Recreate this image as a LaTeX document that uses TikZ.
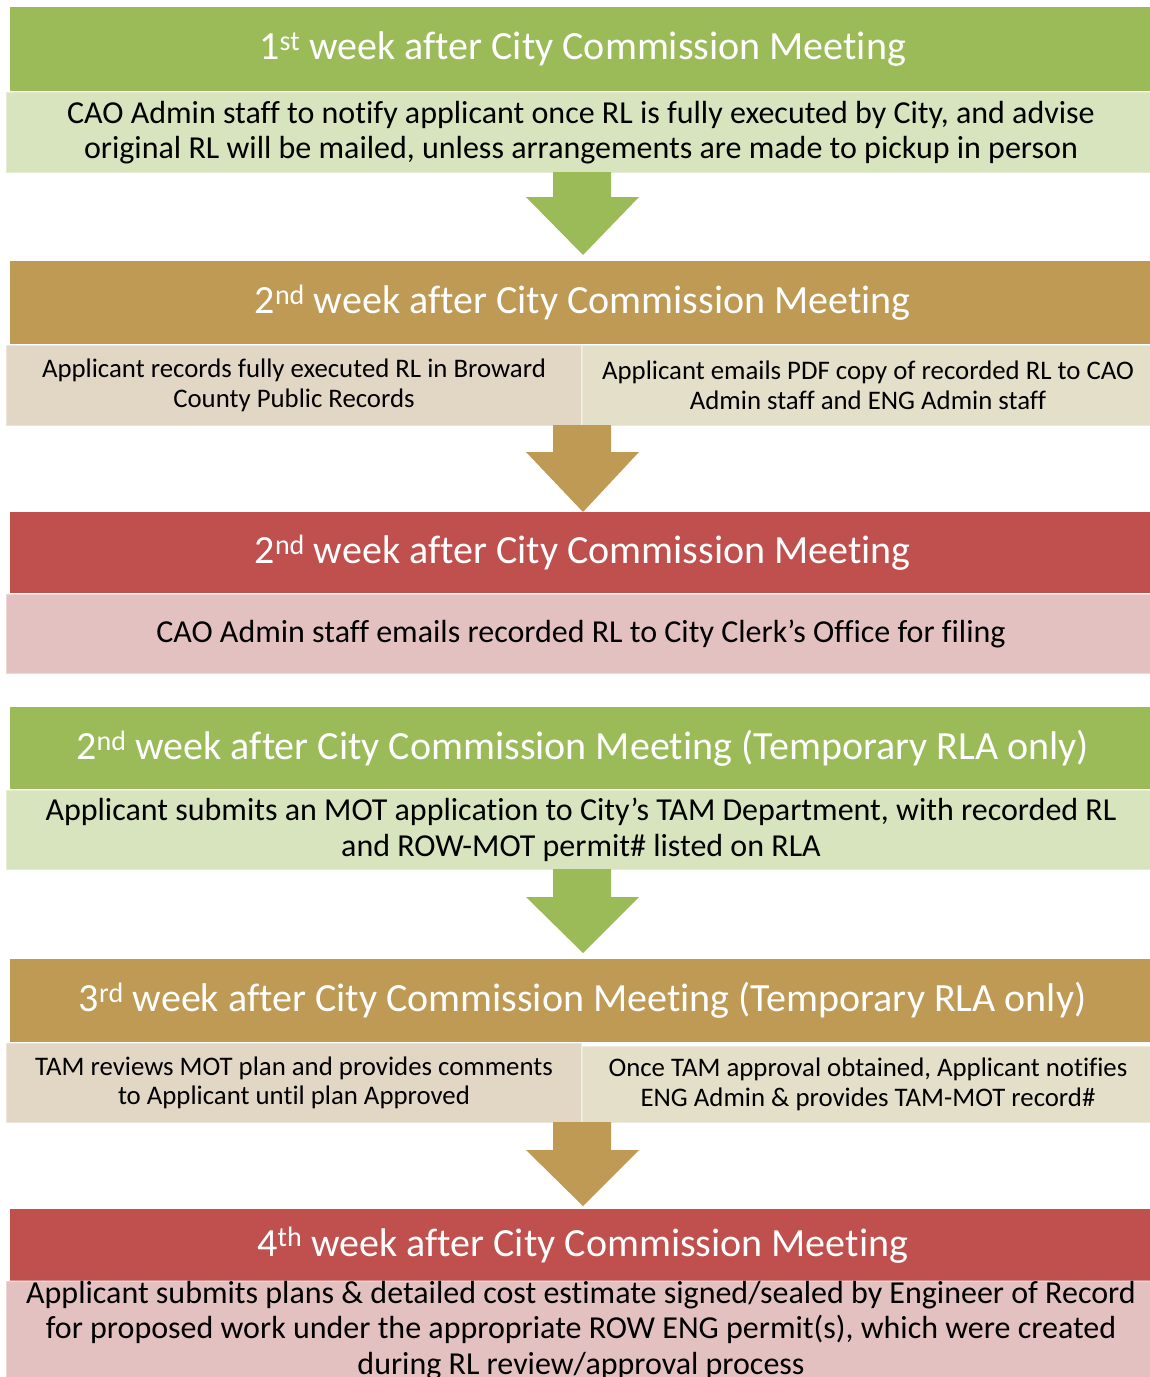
\documentclass[tikz,border=0pt]{standalone}
\usepackage{fontspec}
\setmainfont[Ligatures=NoCommon]{Carlito}
\usetikzlibrary{calc}
\definecolor{gHead}{HTML}{9BBB59}
\definecolor{gBody}{HTML}{D7E4BD}
\definecolor{tHead}{HTML}{BE9A54}
\definecolor{tBodyL}{HTML}{E2D6C5}
\definecolor{tBodyR}{HTML}{E3DFC8}
\definecolor{rHead}{HTML}{C0504D}
\definecolor{rBody}{HTML}{E4C1C1}
\newcommand{\hdrfont}{\fontsize{40}{48}\selectfont}
\newcommand{\bigbody}{\fontsize{32}{35.5}\selectfont}
\newcommand{\smallbody}{\fontsize{26.8}{29.5}\selectfont}
\tikzset{
  hdr/.style={rectangle, inner sep=0pt, anchor=north west, minimum width=1145pt, text=white, font=\hdrfont},
  bodybox/.style={rectangle, inner sep=0pt, anchor=north west, draw=white, draw opacity=0.35, line width=2pt, align=center},
  blockarrow/.style={fill=#1, draw=none}
}
\begin{document}
\begin{tikzpicture}[x=1pt,y=-1pt]
\useasboundingbox (0,0) rectangle (1150,1377);
\clip (0,0) rectangle (1150,1377);
\fill[white] (0,0) rectangle (1150,1377);

% Block 1
\node[hdr, fill=gHead, minimum height=84pt] (h1) at (10,7) {1\textsuperscript{st} week after City Commission Meeting};
\node[bodybox, fill=gBody, minimum width=1150pt, minimum height=81pt, font=\bigbody] (b1) at (5,91)
  {CAO Admin staff to notify applicant once RL is fully executed by City, and advise\\original RL will be mailed, unless arrangements are made to pickup in person};

% Block 2
\node[hdr, fill=tHead, minimum height=83pt] (h2) at (10,261) {2\textsuperscript{nd} week after City Commission Meeting};
\node[bodybox, fill=tBodyL, minimum width=576pt, minimum height=81pt, font=\smallbody] (b2l) at (5,344)
  {Applicant records fully executed RL in Broward\\County Public Records};
\node[bodybox, fill=tBodyR, minimum width=572pt, minimum height=81pt, font=\smallbody] (b2r) at (581,344)
  {Applicant emails PDF copy of recorded RL to CAO\\Admin staff and ENG Admin staff};

% Block 3
\node[hdr, fill=rHead, minimum height=81pt] (h3) at (10,512) {2\textsuperscript{nd} week after City Commission Meeting};
\node[bodybox, fill=rBody, minimum width=1150pt, minimum height=80pt, font=\bigbody] (b3) at (5,593)
  {CAO Admin staff emails recorded RL to City Clerk’s Office for filing};

% Block 4
\node[hdr, fill=gHead, minimum height=82pt] (h4) at (10,707) {2\textsuperscript{nd} week after City Commission Meeting (Temporary RLA only)};
\node[bodybox, fill=gBody, minimum width=1150pt, minimum height=80pt, font=\bigbody] (b4) at (5,789)
  {Applicant submits an MOT application to City’s TAM Department, with recorded RL\\and ROW-MOT permit\# listed on RLA};

% Block 5
\node[hdr, fill=tHead, minimum height=83pt] (h5) at (10,959) {3\textsuperscript{rd} week after City Commission Meeting (Temporary RLA only)};
\node[bodybox, fill=tBodyL, minimum width=576pt, minimum height=80pt, font=\smallbody] (b5l) at (5,1042)
  {TAM reviews MOT plan and provides comments\\to Applicant until plan Approved};
\node[bodybox, fill=tBodyR, minimum width=572pt, minimum height=77pt, font=\smallbody] (b5r) at (581,1045)
  {Once TAM approval obtained, Applicant notifies\\ENG Admin \& provides TAM-MOT record\#};

% Block 6
\node[hdr, fill=rHead, minimum height=72pt] (h6) at (10,1209) {4\textsuperscript{th} week after City Commission Meeting};
\node[bodybox, fill=rBody, minimum width=1150pt, minimum height=98pt, font=\bigbody] (b6) at (5,1280)
  {Applicant submits plans \& detailed cost estimate signed/sealed by Engineer of Record\\for proposed work under the appropriate ROW ENG permit(s), which were created\\during RL review/approval process};

% Arrows
\coordinate (a1) at (582,172);
\fill[gHead] ($(a1)+(-29,0)$) -- ($(a1)+(29,0)$) -- ($(a1)+(29,25)$) -- ($(a1)+(57,25)$) -- ($(h2.north west)+(573,-6)$) -- ($(a1)+(-56,25)$) -- ($(a1)+(-29,25)$) -- cycle;
\coordinate (a2) at (582,425);
\fill[tHead] ($(a2)+(-29,0)$) -- ($(a2)+(29,0)$) -- ($(a2)+(29,27)$) -- ($(a2)+(57,27)$) -- ($(h3.north west)+(573,0)$) -- ($(a2)+(-56,27)$) -- ($(a2)+(-29,27)$) -- cycle;
\coordinate (a3) at (582,869);
\fill[gHead] ($(a3)+(-29,0)$) -- ($(a3)+(29,0)$) -- ($(a3)+(29,28)$) -- ($(a3)+(57,28)$) -- ($(h5.north west)+(573,-6)$) -- ($(a3)+(-56,28)$) -- ($(a3)+(-29,28)$) -- cycle;
\coordinate (a4) at (582,1122);
\fill[tHead] ($(a4)+(-29,0)$) -- ($(a4)+(29,0)$) -- ($(a4)+(29,28)$) -- ($(a4)+(57,28)$) -- ($(h6.north west)+(573,-3)$) -- ($(a4)+(-56,28)$) -- ($(a4)+(-29,28)$) -- cycle;
\end{tikzpicture}
\end{document}
